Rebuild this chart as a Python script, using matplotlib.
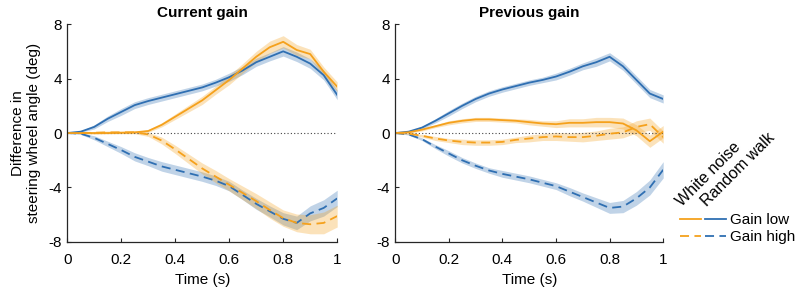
import numpy as np
import matplotlib
matplotlib.use("Agg")
import matplotlib.pyplot as plt
from matplotlib.legend_handler import HandlerTuple

plt.rcParams['font.family'] = ['Liberation Sans', 'DejaVu Sans']
plt.rcParams['font.size'] = 11
plt.rcParams['axes.unicode_minus'] = False

# time grid (s)
t = [0, 0.05, 0.1, 0.15, 0.2, 0.25, 0.3, 0.35, 0.4, 0.45, 0.5,
     0.55, 0.6, 0.65, 0.7, 0.75, 0.8, 0.85, 0.9, 0.95, 1.0]

# Current gain panel
cur_rw_low = [0, 0.1, 0.45, 1.05, 1.55, 2.05, 2.35, 2.6, 2.85, 3.1, 3.35,
              3.7, 4.1, 4.6, 5.2, 5.6, 6.0, 5.6, 5.1, 4.25, 2.8]
cur_rw_low_se = [0, 0.05, 0.15, 0.2, 0.25, 0.25, 0.25, 0.25, 0.25, 0.25, 0.25,
                 0.25, 0.3, 0.3, 0.3, 0.3, 0.35, 0.35, 0.35, 0.35, 0.35]
cur_wn_low = [0, 0, 0, 0, 0.02, 0.05, 0.15, 0.6, 1.2, 1.8, 2.4,
              3.15, 3.9, 4.75, 5.6, 6.3, 6.7, 6.1, 5.8, 4.5, 3.4]
cur_wn_low_se = [0, 0.05, 0.05, 0.05, 0.05, 0.05, 0.1, 0.15, 0.2, 0.25, 0.3,
                 0.3, 0.35, 0.35, 0.4, 0.45, 0.45, 0.4, 0.35, 0.35, 0.35]
cur_rw_high = [0, -0.05, -0.35, -0.8, -1.25, -1.75, -2.1, -2.45, -2.7, -2.95, -3.2,
               -3.5, -3.9, -4.55, -5.2, -5.75, -6.3, -6.6, -5.9, -5.5, -4.8]
cur_rw_high_se = [0, 0.05, 0.15, 0.2, 0.25, 0.3, 0.3, 0.35, 0.35, 0.35, 0.35,
                  0.35, 0.35, 0.35, 0.4, 0.4, 0.45, 0.5, 0.55, 0.6, 0.6]
cur_wn_high = [0, 0, 0.02, 0.05, 0.05, 0.05, -0.1, -0.55, -1.2, -1.9, -2.6,
               -3.2, -3.8, -4.4, -5.0, -5.65, -6.25, -6.6, -6.7, -6.6, -6.1]
cur_wn_high_se = [0, 0.05, 0.1, 0.1, 0.1, 0.1, 0.15, 0.25, 0.3, 0.35, 0.4,
                  0.45, 0.45, 0.5, 0.55, 0.6, 0.6, 0.65, 0.7, 0.8, 0.8]

# Previous gain panel
prev_rw_low = [0, 0.1, 0.4, 0.9, 1.45, 2.0, 2.5, 2.9, 3.2, 3.45, 3.7,
               3.9, 4.15, 4.5, 4.9, 5.2, 5.6, 4.9, 3.9, 2.9, 2.5]
prev_rw_low_se = [0, 0.05, 0.1, 0.15, 0.2, 0.2, 0.2, 0.2, 0.2, 0.2, 0.2,
                  0.2, 0.25, 0.25, 0.25, 0.3, 0.3, 0.3, 0.3, 0.3, 0.3]
prev_wn_low = [0, 0.05, 0.25, 0.5, 0.75, 0.9, 1.0, 1.0, 0.95, 0.9, 0.8,
               0.7, 0.65, 0.75, 0.75, 0.8, 0.8, 0.7, 0.2, -0.6, 0.1]
prev_wn_low_se = [0, 0.05, 0.1, 0.1, 0.15, 0.15, 0.15, 0.15, 0.15, 0.15, 0.2,
                  0.2, 0.25, 0.3, 0.3, 0.35, 0.35, 0.4, 0.4, 0.45, 0.45]
prev_wn_high = [0, -0.05, -0.2, -0.4, -0.55, -0.65, -0.7, -0.7, -0.65, -0.5, -0.4,
                -0.3, -0.25, -0.3, -0.3, -0.2, -0.05, 0.05, 0.45, 0.65, -0.3]
prev_wn_high_se = [0, 0.05, 0.1, 0.15, 0.15, 0.2, 0.2, 0.2, 0.2, 0.2, 0.25,
                   0.25, 0.3, 0.3, 0.35, 0.35, 0.4, 0.4, 0.45, 0.45, 0.45]
prev_rw_high = [0, -0.1, -0.45, -1.0, -1.5, -2.0, -2.4, -2.75, -3.0, -3.2, -3.4,
                -3.65, -3.9, -4.3, -4.7, -5.1, -5.5, -5.4, -4.8, -4.0, -2.7]
prev_rw_high_se = [0, 0.05, 0.1, 0.15, 0.2, 0.2, 0.2, 0.2, 0.25, 0.25, 0.25,
                   0.25, 0.25, 0.3, 0.3, 0.35, 0.4, 0.45, 0.5, 0.55, 0.6]

blue = '#2F6FB2'
orange = '#F5A11C'

fig = plt.figure(figsize=(8, 2.94), dpi=100)
ax1 = fig.add_axes([0.084, 0.177, 0.3375, 0.741])
ax2 = fig.add_axes([0.494, 0.177, 0.335, 0.741])

def draw_curve(ax, y, se, color, ls):
    y = np.array(y)
    se = np.array(se)
    ax.fill_between(t, y - se, y + se, color=color, alpha=0.3, lw=0)
    line, = ax.plot(t, y, color=color, ls=ls, lw=1.3)
    return line

panels = [
    (ax1, 'Current gain', cur_rw_low, cur_rw_low_se, cur_wn_low, cur_wn_low_se,
     cur_rw_high, cur_rw_high_se, cur_wn_high, cur_wn_high_se),
    (ax2, 'Previous gain', prev_rw_low, prev_rw_low_se, prev_wn_low, prev_wn_low_se,
     prev_rw_high, prev_rw_high_se, prev_wn_high, prev_wn_high_se),
]

for ax, title, rwl, rwls, wnl, wnls, rwh, rwhs, wnh, wnhs in panels:
    ax.axhline(0, color='#444444', ls=(0, (1, 2)), lw=0.8)
    h_rwh = draw_curve(ax, rwh, rwhs, blue, (0, (5, 3)))
    h_wnh = draw_curve(ax, wnh, wnhs, orange, (0, (5, 3)))
    h_rwl = draw_curve(ax, rwl, rwls, blue, '-')
    h_wnl = draw_curve(ax, wnl, wnls, orange, '-')
    ax.set_xlim(0, 1)
    ax.set_ylim(-8, 8)
    ax.set_xticks([0, 0.2, 0.4, 0.6, 0.8, 1])
    ax.set_xticklabels(['0', '0.2', '0.4', '0.6', '0.8', '1'])
    ax.set_yticks([-8, -4, 0, 4, 8])
    ax.set_xlabel('Time (s)', labelpad=4)
    ax.set_title(title, fontweight='bold', fontsize=11, pad=5)
    for s in ['top', 'right']:
        ax.spines[s].set_visible(False)
    for s in ['left', 'bottom']:
        ax.spines[s].set_color('#262626')
        ax.spines[s].set_linewidth(0.9)
    ax.tick_params(direction='in', length=3, color='#262626', labelsize=11, pad=4)
    ax.tick_params(axis='x', pad=8)

ax1.set_ylabel('Difference in\nsteering wheel angle (deg)', labelpad=5)

leg = fig.legend([(h_wnl, h_rwl), (h_wnh, h_rwh)], ['Gain low', 'Gain high'],
                 handler_map={tuple: HandlerTuple(ndivide=None, pad=0.25)},
                 loc='upper left', bbox_to_anchor=(0.842, 0.295),
                 frameon=False, handlelength=3.0, handletextpad=0.3,
                 labelspacing=0.2, fontsize=11, borderaxespad=0)

fig.text(0.855, 0.29, 'White noise', rotation=45, rotation_mode='anchor',
         ha='left', va='bottom', fontsize=11.5)
fig.text(0.887, 0.29, 'Random walk', rotation=45, rotation_mode='anchor',
         ha='left', va='bottom', fontsize=11.5)

fig.savefig('out.png', dpi=100)
